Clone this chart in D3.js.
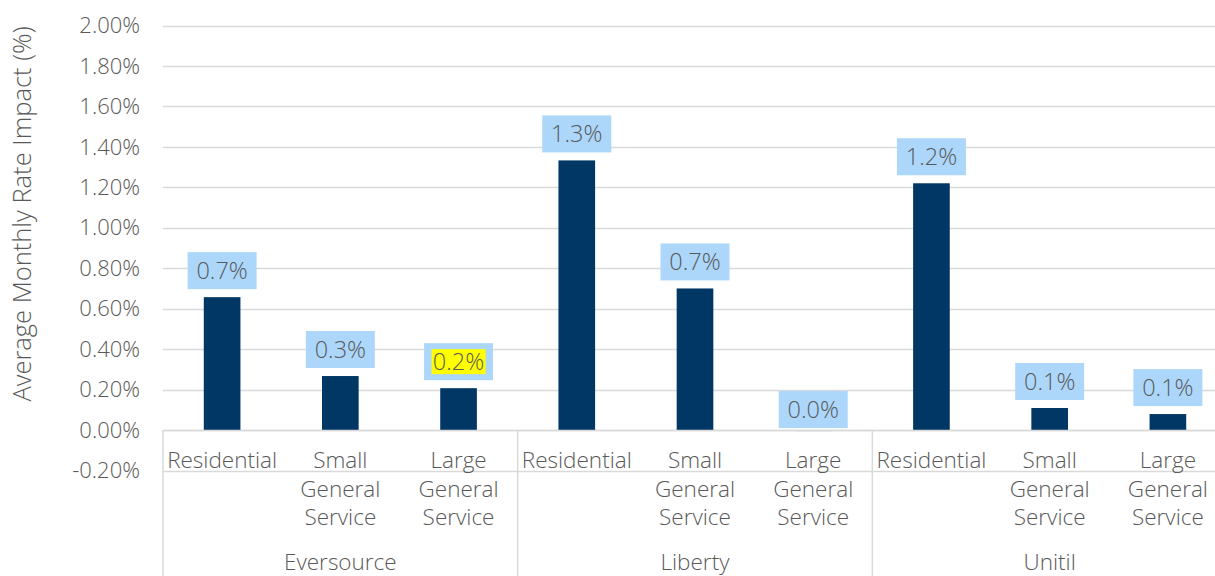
<!DOCTYPE html>
<html>
<head>
<meta charset="utf-8">
<script src="https://cdn.jsdelivr.net/npm/d3@7"></script>
<style>
  body { margin: 0; background: #fff; }
  text { font-family: "Open Sans", "Liberation Sans", Arial, sans-serif; font-weight: 300; fill: #595959; }
</style>
</head>
<body>
<div id="chart"></div>
<script>
const groups = ["Eversource", "Liberty", "Unitil"];
const categories = ["Residential", "Small General Service", "Large General Service"];
const values = [
    [0.657, 0.267, 0.207],
    [1.333, 0.700, -0.005],
    [1.220, 0.109, 0.079]
];
const labels = [
    ["0.7%", "0.3%", "0.2%"],
    ["1.3%", "0.7%", "0.0%"],
    ["1.2%", "0.1%", "0.1%"]
];
const highlighted = ["Eversource|Large General Service"];
const yTicks = [-0.2, 0, 0.2, 0.4, 0.6, 0.8, 1.0, 1.2, 1.4, 1.6, 1.8, 2.0];

const width = 1215, height = 576;
const margin = { top: 25, left: 163 };
const plotW = 1064;

const data = [];
groups.forEach((g, gi) => {
    categories.forEach((c, ci) => {
        data.push({ group: g, cat: c, key: g + "|" + c, value: values[gi][ci], label: labels[gi][ci] });
    });
});

const svg = d3.select("#chart")
    .append("svg")
    .attr("width", width)
    .attr("height", height);

const x = d3.scaleBand()
    .domain(data.map(d => d.key))
    .range([margin.left, margin.left + plotW])
    .paddingInner(0.69)
    .paddingOuter(0.345);

const y = d3.scaleLinear()
    .domain([-0.2, 2.0])
    .range([470.5, 25.5]);

// gridlines
svg.append("g")
    .selectAll("line")
    .data(yTicks)
    .join("line")
    .attr("x1", margin.left)
    .attr("x2", margin.left + plotW)
    .attr("y1", d => Math.round(y(d)) + 0.5)
    .attr("y2", d => Math.round(y(d)) + 0.5)
    .attr("stroke", "#d9d9d9")
    .attr("stroke-width", 1.5);

// y tick labels
svg.append("g")
    .selectAll("text")
    .data(yTicks)
    .join("text")
    .attr("x", 140)
    .attr("y", d => y(d))
    .attr("dy", "0.35em")
    .attr("text-anchor", "end")
    .style("font-size", "22px")
    .text(d => d3.format(".2f")(d).replace("\u2212", "-") + "%");

// y title
svg.append("text")
    .attr("transform", `translate(31, 214) rotate(-90)`)
    .attr("text-anchor", "middle")
    .style("font-size", "25.5px")
    .text("Average Monthly Rate Impact (%)");

// bars
svg.append("g")
    .selectAll("rect")
    .data(data)
    .join("rect")
    .attr("x", d => x(d.key))
    .attr("width", x.bandwidth())
    .attr("y", d => y(Math.max(d.value, 0)))
    .attr("height", d => Math.max(1, Math.abs(y(d.value) - y(0))))
    .attr("fill", "#003764");

// zero line
svg.append("line")
    .attr("x1", margin.left)
    .attr("x2", margin.left + plotW)
    .attr("y1", Math.round(y(0)) + 0.5)
    .attr("y2", Math.round(y(0)) + 0.5)
    .attr("stroke", "#d9d9d9")
    .attr("stroke-width", 1.5);

// group separators
const groupW = plotW / groups.length;
svg.append("g")
    .selectAll("line")
    .data(d3.range(groups.length + 1))
    .join("line")
    .attr("x1", i => margin.left + i * groupW)
    .attr("x2", i => margin.left + i * groupW)
    .attr("y1", y(0))
    .attr("y2", height)
    .attr("stroke", "#d9d9d9")
    .attr("stroke-width", 1.5);

// data labels
const lab = svg.append("g")
    .selectAll("g")
    .data(data)
    .join("g")
    .attr("transform", d => {
        const cx = x(d.key) + x.bandwidth() / 2;
        const bottom = d.value < 0 ? y(0) - 2 : y(d.value) - 8;
        return `translate(${cx}, ${bottom})`;
    });

lab.append("rect")
    .attr("x", -34.5)
    .attr("y", -37)
    .attr("width", 69)
    .attr("height", 37)
    .attr("fill", "#acd7fb");

lab.filter(d => highlighted.includes(d.key))
    .append("rect")
    .attr("x", -27)
    .attr("y", -31)
    .attr("width", 54)
    .attr("height", 25)
    .attr("fill", "#ffff00");

lab.append("text")
    .attr("y", -18.5)
    .attr("dy", "0.36em")
    .attr("text-anchor", "middle")
    .style("font-size", "23.5px")
    .text(d => d.label);

// category labels
const catLab = svg.append("g")
    .selectAll("text")
    .data(data)
    .join("text")
    .attr("x", d => x(d.key) + x.bandwidth() / 2)
    .attr("y", 468)
    .attr("text-anchor", "middle")
    .style("font-size", "22.5px");

catLab.each(function (d) {
    const words = d.cat.split(" ");
    d3.select(this).selectAll("tspan")
        .data(words)
        .join("tspan")
        .attr("x", x(d.key) + x.bandwidth() / 2)
        .attr("dy", (w, i) => i === 0 ? 0 : 28.5)
        .text(w => w);
});

// group labels
svg.append("g")
    .selectAll("text")
    .data(groups)
    .join("text")
    .attr("x", (g, i) => margin.left + (i + 0.5) * groupW)
    .attr("y", 570)
    .attr("text-anchor", "middle")
    .style("font-size", "22.5px")
    .text(g => g);
</script>
</body>
</html>
